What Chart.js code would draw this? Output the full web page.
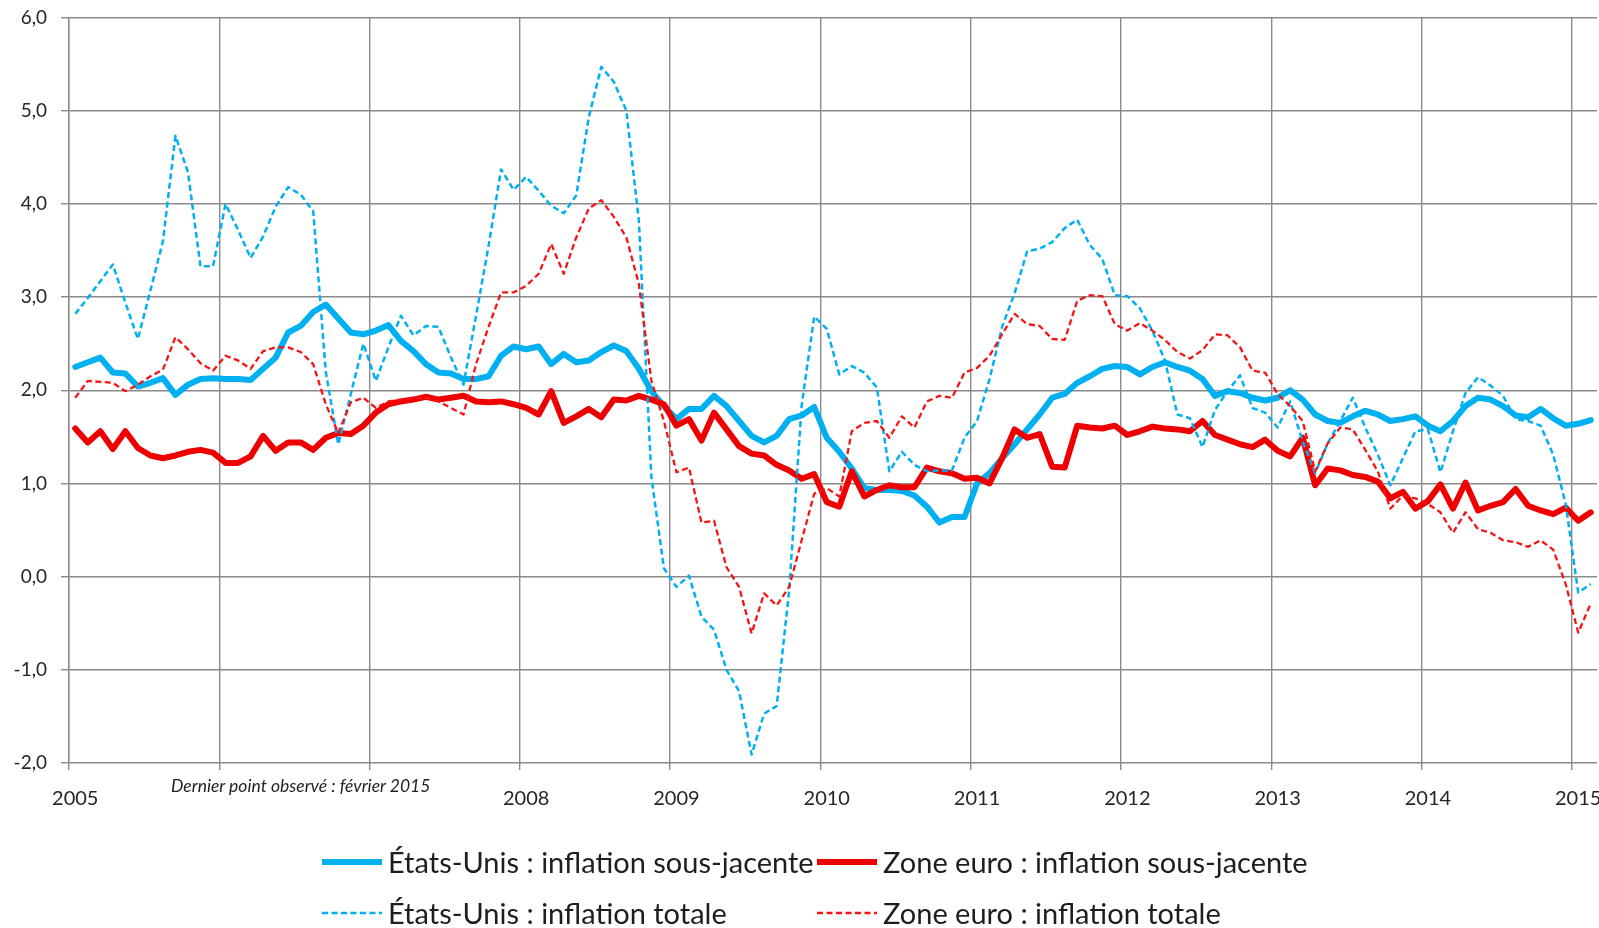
<!DOCTYPE html>
<html lang="fr">
<head>
<meta charset="utf-8">
<title>Inflation sous-jacente et totale : États-Unis et zone euro</title>
<script src="https://cdn.jsdelivr.net/npm/chart.js@4.4.1/dist/chart.umd.min.js"></script>
<style>
  html, body { margin: 0; padding: 0; background: #fff; }
  #wrap { position: relative; width: 1599px; height: 928px; font-family: Lato, "Open Sans", sans-serif; color: #1e1e1e; }
  #note { position: absolute; left: 171px; top: 775px; font-size: 17.5px; font-style: italic; color: #222; white-space: nowrap; }
  #legend { position: absolute; left: 321px; top: 836px; display: grid; grid-template-columns: 495px 495px; }
  .lg-item { display: flex; align-items: center; height: 51px; font-size: 29px; white-space: nowrap; }
  .lg-item svg { margin-right: 5px; flex: none; }
</style>
</head>
<body>
<div id="wrap">
  <canvas id="chart" width="1599" height="928"></canvas>
  <div id="note">Dernier point observé : février 2015</div>
  <div id="legend"></div>
</div>
<script>
// ── Data (monthly, janvier 2005 – février 2015) ───
const years = [2005, 2006, 2007, 2008, 2009, 2010, 2011, 2012, 2013, 2014, 2015];
const hiddenYears = [2006, 2007]; // covered by the note
const lastMonth = 2; // février 2015

const usCore = [
  2.25, 2.30, 2.35, 2.19, 2.18, 2.04, 2.08, 2.13, 1.95, 2.06, 2.12, 2.13,
  2.12, 2.12, 2.11, 2.23, 2.35, 2.62, 2.69, 2.84, 2.92, 2.77, 2.62, 2.60,
  2.64, 2.70, 2.53, 2.42, 2.28, 2.19, 2.18, 2.12, 2.12, 2.15, 2.37, 2.47,
  2.44, 2.47, 2.28, 2.39, 2.30, 2.32, 2.41, 2.48, 2.42, 2.23, 1.99, 1.83,
  1.69, 1.80, 1.80, 1.94, 1.83, 1.67, 1.51, 1.44, 1.51, 1.69, 1.73, 1.82,
  1.49, 1.34, 1.16, 0.95, 0.93, 0.93, 0.92, 0.87, 0.75, 0.58, 0.64, 0.64,
  1.00, 1.11, 1.27, 1.42, 1.58, 1.74, 1.92, 1.96, 2.08, 2.15, 2.23, 2.26,
  2.25, 2.17, 2.25, 2.30, 2.25, 2.21, 2.12, 1.94, 1.99, 1.97, 1.92, 1.89,
  1.92, 2.00, 1.90, 1.74, 1.67, 1.65, 1.72, 1.78, 1.74, 1.67, 1.69, 1.72,
  1.62, 1.56, 1.67, 1.83, 1.92, 1.90, 1.83, 1.73, 1.71, 1.80, 1.70, 1.62,
  1.64, 1.68
];

const euCore = [
  1.59, 1.44, 1.56, 1.37, 1.56, 1.38, 1.30, 1.27, 1.30, 1.34, 1.36, 1.33,
  1.22, 1.22, 1.29, 1.51, 1.35, 1.44, 1.44, 1.36, 1.49, 1.54, 1.53, 1.62,
  1.76, 1.85, 1.88, 1.90, 1.93, 1.90, 1.92, 1.94, 1.88, 1.87, 1.88, 1.85,
  1.81, 1.74, 1.99, 1.65, 1.72, 1.80, 1.71, 1.90, 1.89, 1.94, 1.90, 1.85,
  1.62, 1.69, 1.46, 1.76, 1.58, 1.40, 1.32, 1.30, 1.20, 1.14, 1.05, 1.10,
  0.80, 0.75, 1.13, 0.86, 0.93, 0.98, 0.96, 0.96, 1.17, 1.13, 1.11, 1.05,
  1.06, 1.00, 1.27, 1.58, 1.49, 1.53, 1.18, 1.17, 1.62, 1.60, 1.59, 1.62,
  1.52, 1.56, 1.61, 1.59, 1.58, 1.56, 1.67, 1.52, 1.47, 1.42, 1.39, 1.47,
  1.35, 1.29, 1.49, 0.98, 1.16, 1.14, 1.09, 1.07, 1.02, 0.84, 0.91, 0.73,
  0.81, 0.99, 0.73, 1.01, 0.71, 0.76, 0.80, 0.94, 0.76, 0.71, 0.67, 0.74,
  0.60, 0.69
];

const usTotal = [
  2.82, 2.99, 3.17, 3.35, 2.94, 2.55, 3.07, 3.60, 4.73, 4.34, 3.33, 3.33,
  4.00, 3.72, 3.42, 3.65, 3.97, 4.18, 4.10, 3.92, 2.20, 1.42, 1.96, 2.50,
  2.10, 2.46, 2.80, 2.59, 2.69, 2.68, 2.35, 2.06, 2.80, 3.55, 4.37, 4.15,
  4.29, 4.14, 3.98, 3.90, 4.09, 4.93, 5.47, 5.31, 5.00, 3.82, 1.07, 0.09,
  -0.11, 0.01, -0.43, -0.57, -1.00, -1.23, -1.91, -1.47, -1.39, -0.15, 1.84, 2.79,
  2.66, 2.17, 2.26, 2.19, 2.03, 1.13, 1.34, 1.20, 1.13, 1.14, 1.14, 1.49,
  1.67, 2.12, 2.68, 3.04, 3.49, 3.52, 3.59, 3.74, 3.83, 3.56, 3.41, 3.02,
  3.01, 2.88, 2.64, 2.32, 1.74, 1.70, 1.39, 1.79, 1.99, 2.16, 1.81, 1.76,
  1.60, 1.88, 1.45, 1.11, 1.43, 1.67, 1.92, 1.60, 1.31, 0.98, 1.27, 1.56,
  1.58, 1.12, 1.56, 1.97, 2.14, 2.05, 1.94, 1.69, 1.67, 1.62, 1.31, 0.78,
  -0.17, -0.08
];

const euTotal = [
  1.92, 2.10, 2.09, 2.08, 1.99, 2.06, 2.15, 2.22, 2.57, 2.44, 2.29, 2.21,
  2.37, 2.32, 2.23, 2.42, 2.46, 2.46, 2.41, 2.28, 1.85, 1.54, 1.87, 1.92,
  1.81, 1.88, 1.90, 1.92, 1.92, 1.88, 1.81, 1.74, 2.28, 2.68, 3.05, 3.05,
  3.12, 3.25, 3.57, 3.25, 3.64, 3.95, 4.04, 3.86, 3.64, 3.14, 2.10, 1.67,
  1.12, 1.17, 0.58, 0.60, 0.10, -0.11, -0.61, -0.18, -0.31, -0.11, 0.39, 0.89,
  0.95, 0.86, 1.56, 1.65, 1.67, 1.49, 1.72, 1.60, 1.88, 1.94, 1.92, 2.19,
  2.24, 2.37, 2.60, 2.82, 2.71, 2.69, 2.55, 2.54, 2.96, 3.02, 3.01, 2.71,
  2.64, 2.72, 2.64, 2.54, 2.41, 2.34, 2.43, 2.60, 2.59, 2.46, 2.21, 2.19,
  1.96, 1.83, 1.67, 1.13, 1.43, 1.60, 1.58, 1.36, 1.13, 0.73, 0.87, 0.84,
  0.78, 0.69, 0.47, 0.69, 0.51, 0.47, 0.39, 0.37, 0.32, 0.39, 0.29, -0.08,
  -0.60, -0.29
];

// ── Month labels ──────────────────────────────────
const months = [];
years.forEach(y => {
  const n = y === 2015 ? lastMonth : 12;
  for (let m = 1; m <= n; m++) months.push(y + '-' + String(m).padStart(2, '0'));
});

const BLUE = 'rgb(0,176,240)';
const RED = 'rgb(238,0,0)';
const GRID = '#8a8a8a';
const TXT = '#262626';

const datasets = [
  { label: 'États-Unis : inflation sous-jacente', data: usCore, borderColor: BLUE, borderWidth: 6, order: 4 },
  { label: 'Zone euro : inflation sous-jacente', data: euCore, borderColor: RED, borderWidth: 6, order: 3 },
  { label: 'États-Unis : inflation totale', data: usTotal, borderColor: BLUE, borderWidth: 2.5, borderDash: [6, 3.5], order: 2 },
  { label: 'Zone euro : inflation totale', data: euTotal, borderColor: 'rgb(245,20,20)', borderWidth: 2.3, borderDash: [6, 3.5], order: 1 }
];
datasets.forEach(d => {
  d.fill = false;
  d.tension = 0;
  d.pointRadius = 0;
  d.borderJoinStyle = 'round';
  d.borderCapStyle = d.borderDash ? 'butt' : 'round';
});

// ── Chart ─────────────────────────────────────────
const ctx = document.getElementById('chart').getContext('2d');
const chart = new Chart(ctx, {
  type: 'line',
  data: { labels: months, datasets: datasets },
  options: {
    responsive: false,
    animation: false,
    layout: { padding: { top: 17.5, right: 2, left: 0, bottom: 0 } },
    plugins: { legend: { display: false }, tooltip: { enabled: false } },
    scales: {
      x: {
        type: 'category',
        offset: true,
        grid: {
          offset: true,
          color: c => (c.index % 12 === 0 ? GRID : 'transparent'),
          lineWidth: 1.4,
          tickLength: 7
        },
        border: { display: false },
        ticks: {
          autoSkip: false,
          maxRotation: 0,
          padding: 17,
          color: TXT,
          font: { family: 'Lato', size: 20 },
          callback: function (value, index) {
            const lab = this.getLabelForValue(value);
            const y = Number(lab.slice(0, 4));
            if (lab.slice(5) !== '01' || hiddenYears.includes(y)) return '';
            return String(y);
          }
        },
        afterFit: scale => {
          scale.height = 165;
          scale.paddingLeft = 0;
          scale.paddingRight = 0;
        }
      },
      y: {
        min: -2,
        max: 6,
        grid: { color: GRID, lineWidth: 1.4, tickLength: 8 },
        border: { color: GRID, width: 1.4 },
        ticks: {
          stepSize: 1,
          padding: 14,
          color: TXT,
          font: { family: 'Lato', size: 19 },
          callback: v => v.toFixed(1).replace('.', ',')
        },
        afterFit: scale => {
          scale.width = 69;
          scale.paddingTop = 0;
          scale.paddingBottom = 0;
        }
      }
    }
  }
});

// ── Legend (2 x 2) ────────────────────────────────
const legend = document.getElementById('legend');
legend.innerHTML = chart.data.datasets.map(d => {
  const dash = d.borderDash ? `stroke-dasharray="${d.borderDash.join(' ')}"` : '';
  return `<div class="lg-item">
    <svg width="62" height="12"><line x1="1" y1="6" x2="61" y2="6" stroke="${d.borderColor}"
      stroke-width="${d.borderWidth}" ${dash}/></svg>
    <span>${d.label}</span>
  </div>`;
}).join('');
</script>
</body>
</html>
